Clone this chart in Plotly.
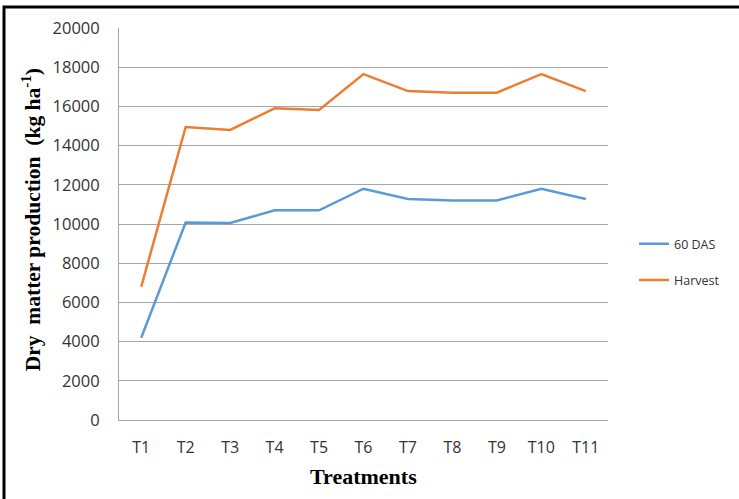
import plotly.graph_objects as go

treatments = ["T1", "T2", "T3", "T4", "T5", "T6", "T7", "T8", "T9", "T10", "T11"]
das60 = [4200, 10080, 10050, 10700, 10700, 11800, 11280, 11200, 11200, 11800, 11280]
harvest = [6800, 14950, 14800, 15900, 15820, 17650, 16780, 16700, 16700, 17650, 16780]
y_ticks = list(range(0, 20001, 2000))

W, H = 739, 499
L, R, T, B = 119, 608, 27.5, 420

fig = go.Figure()
fig.add_trace(go.Scatter(x=treatments, y=das60, mode="lines", name="60 DAS",
                         line=dict(color="#5b9bd5", width=2.5), legendgroup="a"))
fig.add_trace(go.Scatter(x=treatments, y=harvest, mode="lines", name="Harvest",
                         line=dict(color="#ed7d31", width=2.5), legendgroup="b"))

def px_x(p):
    return (p - L) / (R - L)

def px_y(p):
    return (B - p) / (B - T)

fig.update_layout(
    width=W, height=H,
    margin=dict(l=L, r=W - R, t=T, b=H - B, autoexpand=False),
    paper_bgcolor="white", plot_bgcolor="white",
    font=dict(family="Open Sans", size=16, color="#333333"),
    showlegend=True,
    legend=dict(x=px_x(634), y=px_y(229), xanchor="left", yanchor="top",
                tracegroupgap=17, font=dict(size=12.5, color="#333333"),
                bgcolor="rgba(0,0,0,0)"),
    xaxis=dict(type="category", range=[-0.5, len(treatments) - 0.5],
               showgrid=False, showline=True, linecolor="#a6a6a6", linewidth=1,
               ticks="", ticklabelstandoff=13, fixedrange=True,
               tickfont=dict(size=16)),
    yaxis=dict(range=[0, 20000], tickvals=y_ticks, ticktext=[str(v) for v in y_ticks],
               showgrid=True, gridcolor="#a6a6a6", gridwidth=1,
               showline=True, linecolor="#a6a6a6", linewidth=1,
               zeroline=False, ticks="", ticklabelstandoff=15, fixedrange=True,
               tickfont=dict(size=16.5)),
    annotations=[
        dict(text="Treatments", xref="paper", yref="paper", x=px_x(363), y=px_y(477),
             showarrow=False, xanchor="center", yanchor="middle",
             font=dict(family="Liberation Serif", size=22, color="black", weight="bold")),
        dict(text="Dry&nbsp; matter production&nbsp; (kg ha<sup>-1</sup>)", xref="paper", yref="paper",
             x=px_x(31), y=px_y(220), textangle=-90, showarrow=False,
             xanchor="center", yanchor="middle",
             font=dict(family="Liberation Serif", size=21.5, color="black", weight="bold")),
    ],
    shapes=[
        dict(type="rect", xref="paper", yref="paper",
             x0=px_x(4), x1=px_x(760), y0=px_y(520), y1=px_y(6.5),
             line=dict(color="black", width=3), fillcolor="rgba(0,0,0,0)", layer="above"),
    ],
)

fig.write_html("out.html", config={"displayModeBar": False},
               post_script="document.body.style.margin='0';document.body.style.overflow='hidden';")
